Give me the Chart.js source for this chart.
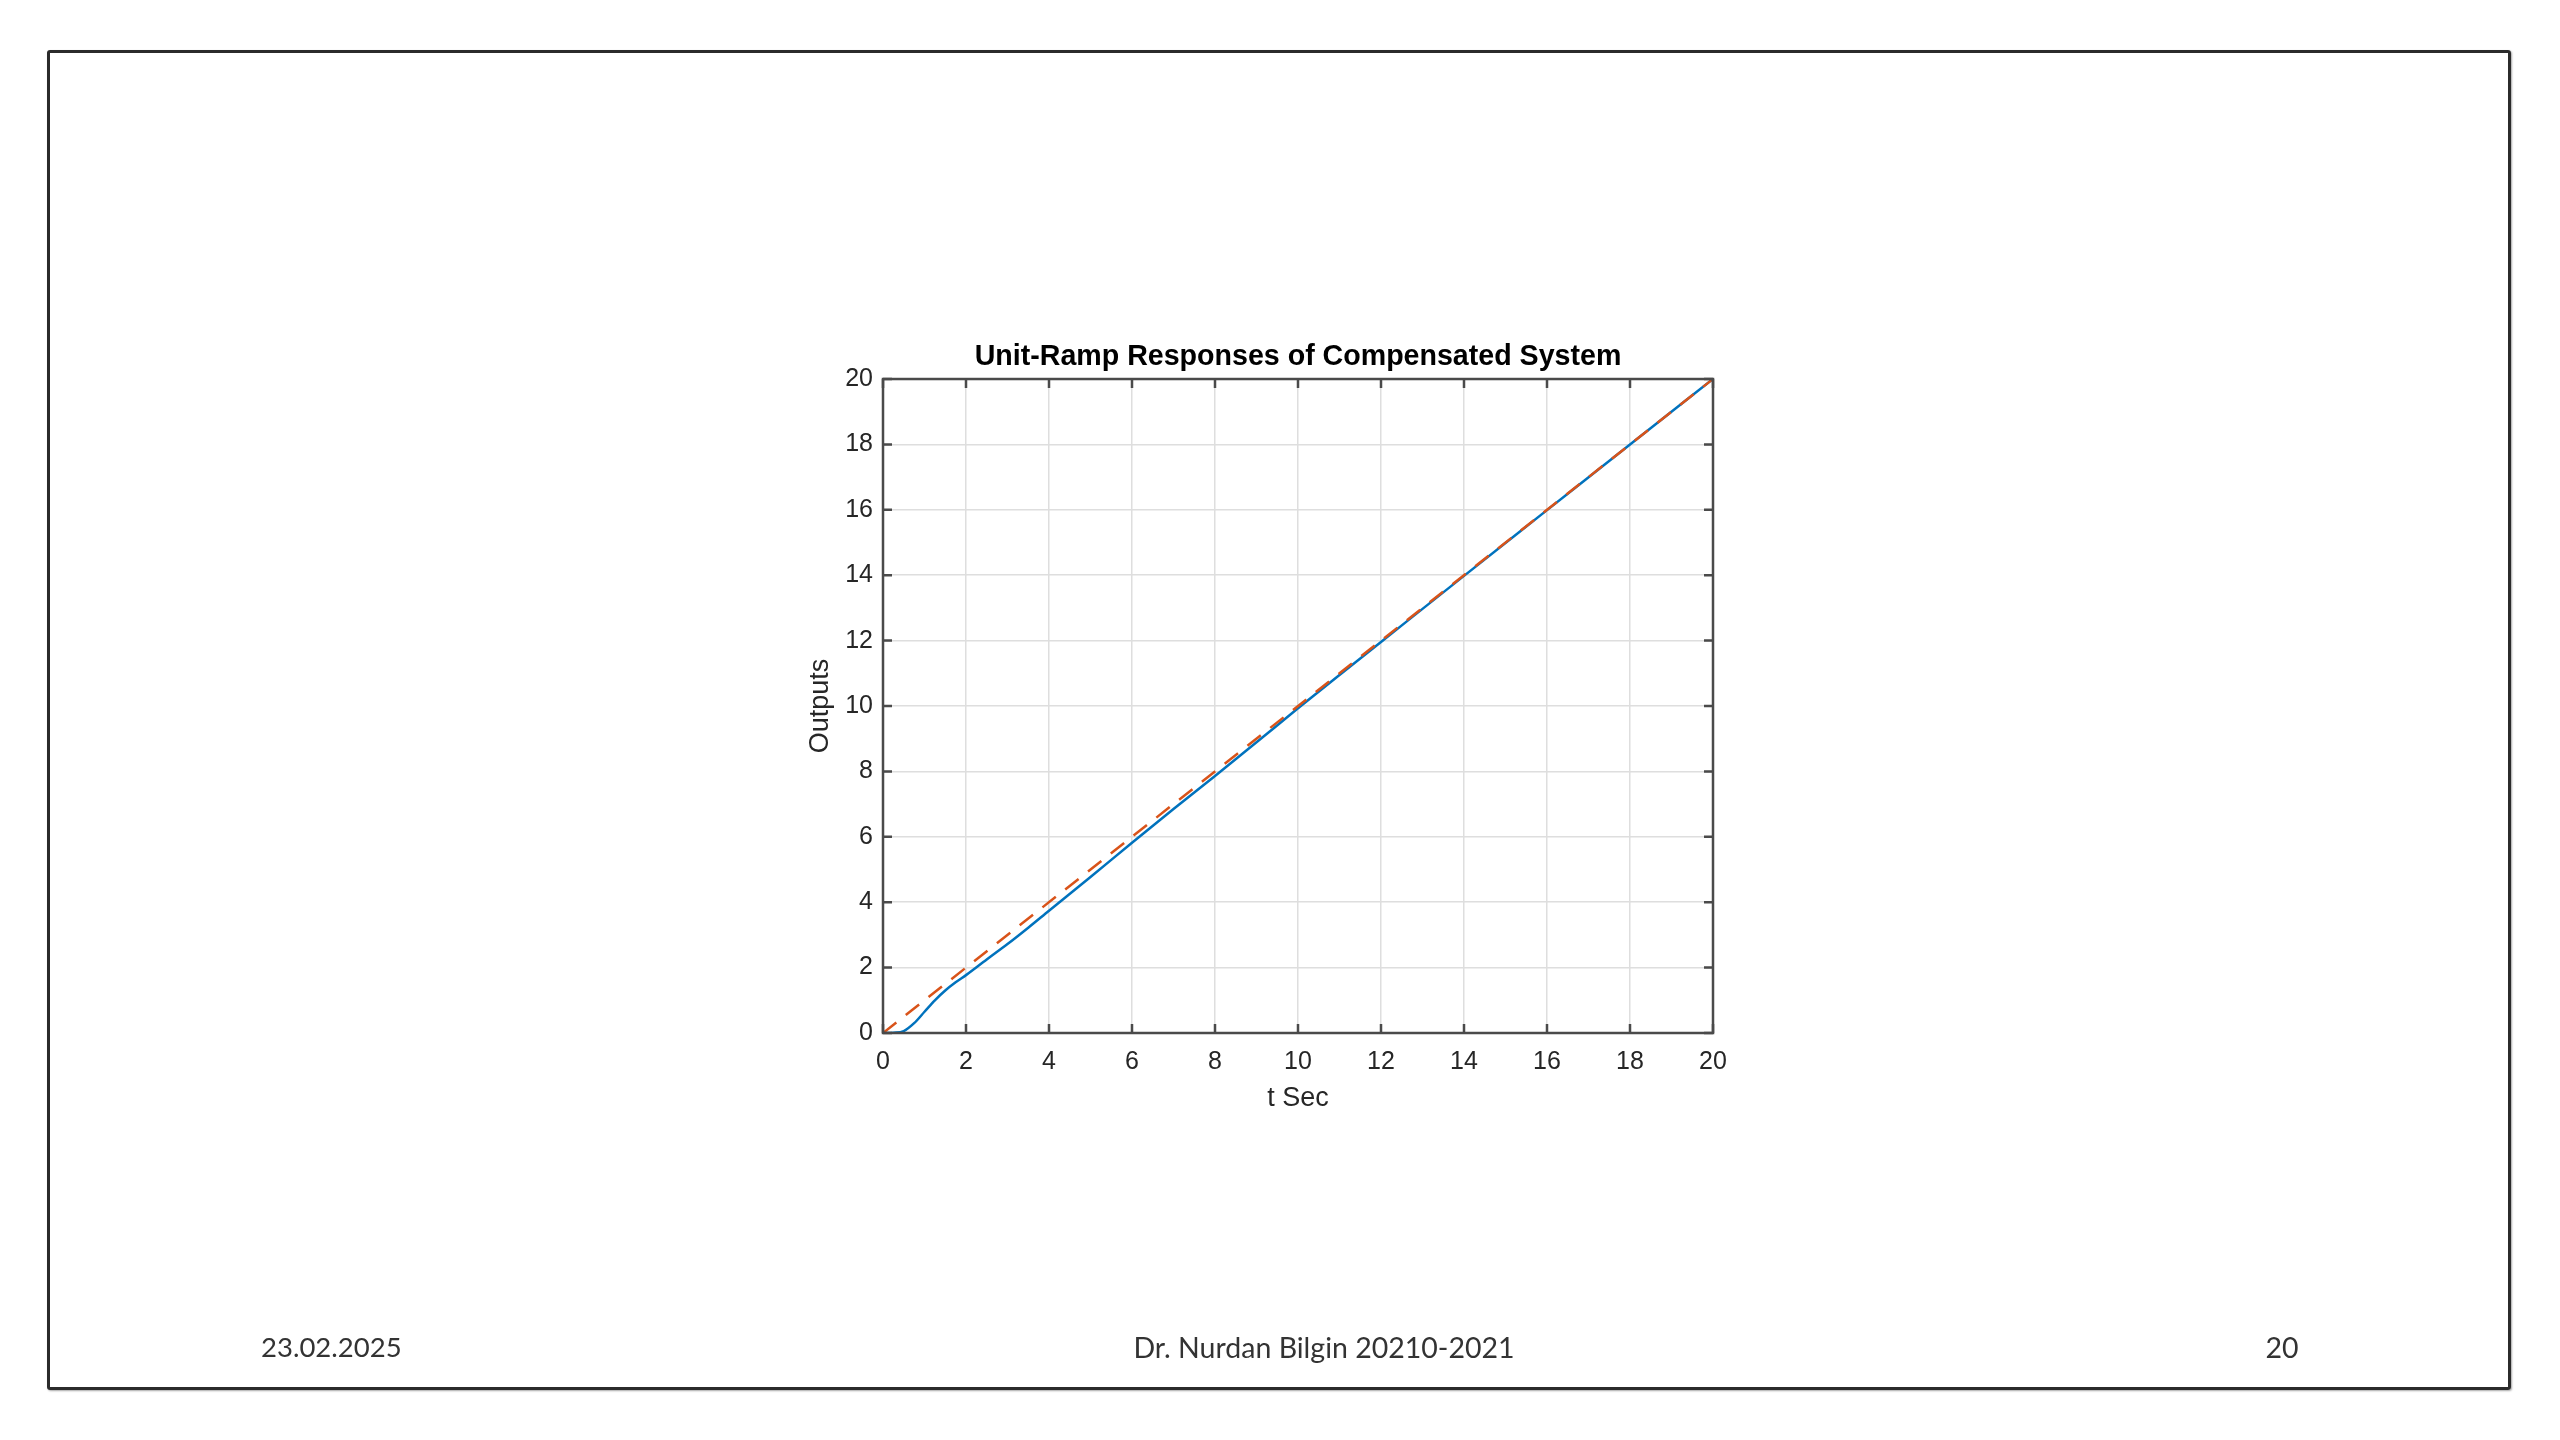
<!DOCTYPE html>
<html>
<head>
<meta charset="utf-8">
<script src="https://cdn.jsdelivr.net/npm/chart.js@4/dist/chart.umd.min.js"></script>
<style>
  html, body { margin: 0; padding: 0; background: #ffffff; }
  body { width: 2560px; height: 1440px; position: relative; overflow: hidden; }
  #frame { position: absolute; left: 47px; top: 50px; width: 2458px; height: 1334px;
           border: 3px solid #2b2b2b; border-radius: 3px; box-shadow: 1px 1px 2px rgba(0,0,0,0.35); }
  #chartCanvas { position: absolute; left: 0; top: 0; }
  .foot { position: absolute; font-family: Lato, "Open Sans", sans-serif; font-size: 28.5px; color: #333;
          line-height: 32px; top: 1331px; white-space: nowrap; }
  #fDate { left: 261px; font-size: 27.5px; }
  #fName { left: 1324px; transform: translateX(-50%); }
  #fPage { left: 2282px; transform: translateX(-50%); }
</style>
</head>
<body>
<div id="frame"></div>
<canvas id="chartCanvas" width="2560" height="1440"></canvas>
<div class="foot" id="fDate">23.02.2025</div>
<div class="foot" id="fName">Dr. Nurdan Bilgin 20210-2021</div>
<div class="foot" id="fPage">20</div>
<script>
// ---- data ----
const chartTitle = "Unit-Ramp Responses of Compensated System";
const xAxisLabel = "t Sec";
const yAxisLabel = "Outputs";
const xTicks = [0, 2, 4, 6, 8, 10, 12, 14, 16, 18, 20];
const yTicks = [0, 2, 4, 6, 8, 10, 12, 14, 16, 18, 20];
// compensated system response (solid blue)
const respTime   = [0, 0.25, 0.5, 0.75, 1, 1.25, 1.5, 1.75, 2, 2.5, 3, 3.5, 4, 5, 6, 7, 8, 9, 10, 11, 12, 14, 16, 18, 20];
const respValues = [0, 0.01, 0.06, 0.3, 0.65, 1.0, 1.3, 1.55, 1.77, 2.25, 2.72, 3.22, 3.74, 4.77, 5.82, 6.85, 7.86, 8.89, 9.93, 10.95, 11.96, 13.98, 15.99, 18.0, 20.0];
// unit-ramp input (dashed orange)
const refTime   = [0, 20];
const refValues = [0, 20];

const toPts = (xs, ys) => xs.map((x, i) => ({x: x, y: ys[i]}));

const boxPlugin = {
  id: 'matlabBox',
  afterLayout(chart) {
    // centre the title over the plot box, as MATLAB does
    const tb = chart.titleBlock, a = chart.chartArea;
    if (tb && a) { tb.left = a.left; tb.right = a.right; tb.width = a.right - a.left; }
  },
  afterDatasetsDraw(chart) {
    const {ctx, chartArea: a, scales} = chart;
    const tl = 9;
    ctx.save();
    ctx.strokeStyle = '#4a4a4a';
    ctx.lineWidth = 2.5;
    ctx.beginPath();
    xTicks.forEach(v => {
      const px = scales.x.getPixelForValue(v);
      ctx.moveTo(px, a.bottom); ctx.lineTo(px, a.bottom - tl);
      ctx.moveTo(px, a.top); ctx.lineTo(px, a.top + tl);
    });
    yTicks.forEach(v => {
      const py = scales.y.getPixelForValue(v);
      ctx.moveTo(a.left, py); ctx.lineTo(a.left + tl, py);
      ctx.moveTo(a.right, py); ctx.lineTo(a.right - tl, py);
    });
    ctx.stroke();
    ctx.strokeRect(a.left, a.top, a.right - a.left, a.bottom - a.top);
    ctx.restore();
  }
};

new Chart(document.getElementById('chartCanvas'), {
  type: 'line',
  data: {
    datasets: [
      { label: 'Ramp', data: toPts(refTime, refValues), borderColor: '#D95319', borderWidth: 2.5,
        borderDash: [17, 12], pointRadius: 0, fill: false, order: 0 },
      { label: 'Response', data: toPts(respTime, respValues), borderColor: '#0072BD', borderWidth: 2.5,
        pointRadius: 0, fill: false, cubicInterpolationMode: 'monotone', order: 1 }
    ]
  },
  options: {
    responsive: false,
    animation: false,
    devicePixelRatio: 1,
    layout: { padding: { left: 804.8, right: 847, top: 340.2, bottom: 324.8 } },
    plugins: {
      legend: { display: false },
      tooltip: { enabled: false },
      title: { display: true, text: chartTitle, color: '#000',
               font: { family: 'Liberation Sans, Arial, sans-serif', size: 28.6, weight: 'bold' },
               padding: { top: 0, bottom: 4.5 } }
    },
    scales: {
      x: {
        type: 'linear', min: 0, max: 20,
        afterBuildTicks: s => { s.ticks = xTicks.map(v => ({value: v})); },
        afterFit: s => { s.height = 82.2; },
        ticks: { color: '#262626', padding: 14, maxRotation: 0,
                 font: { family: 'Liberation Sans, Arial, sans-serif', size: 25 } },
        grid: { color: '#dedede', lineWidth: 1.5, drawTicks: false },
        border: { display: false },
        title: { display: true, text: xAxisLabel, color: '#262626', padding: 0,
                 font: { family: 'Liberation Sans, Arial, sans-serif', size: 27 } }
      },
      y: {
        type: 'linear', min: 0, max: 20,
        afterBuildTicks: s => { s.ticks = yTicks.map(v => ({value: v})); },
        afterFit: s => { s.width = 78.2; },
        ticks: { color: '#262626', padding: 10,
                 font: { family: 'Liberation Sans, Arial, sans-serif', size: 25 } },
        grid: { color: '#dedede', lineWidth: 1.5, drawTicks: false },
        border: { display: false },
        title: { display: true, text: yAxisLabel, color: '#262626', padding: 0,
                 font: { family: 'Liberation Sans, Arial, sans-serif', size: 27 } }
      }
    }
  },
  plugins: [boxPlugin]
});
</script>
</body>
</html>
